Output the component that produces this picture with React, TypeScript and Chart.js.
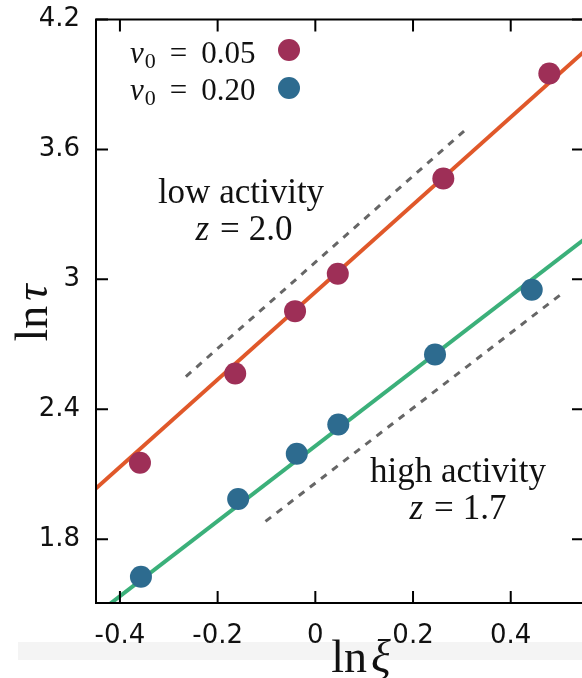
import React, { useEffect, useRef } from 'react';
import { Chart, registerables } from 'chart.js';

Chart.register(...registerables);

// ---- axes ----
const xTicks = [-0.4, -0.2, 0, 0.2, 0.4];
const yTicks = [1.8, 2.4, 3, 3.6, 4.2];
const xRange = [-0.449, 0.55];
const yRange = [1.505, 4.2];

// ---- data: v0 = 0.05 (low activity) ----
const lowX = [-0.359, -0.164, -0.0415, 0.046, 0.262, 0.479];
const lowY = [2.153, 2.565, 2.853, 3.026, 3.466, 3.951];
// ---- data: v0 = 0.20 (high activity) ----
const highX = [-0.357, -0.158, -0.038, 0.047, 0.245, 0.443];
const highY = [1.626, 1.985, 2.194, 2.329, 2.653, 2.952];

// ---- fit lines ----
const lowFitX = [-0.47, 0.57];
const lowFitY = [1.992, 4.092];
const highFitX = [-0.47, 0.57];
const highFitY = [1.415, 3.219];

// ---- guide (dashed) lines ----
const lowGuideX = [-0.265, 0.3065];
const lowGuideY = [2.551, 3.689];
const highGuideX = [-0.102, 0.506];
const highGuideY = [1.882, 2.936];

const seriesLabels = ['0.05', '0.20'];

const RED = '#9e2f57';
const BLUE = '#2d6b8f';
const ORANGE = '#e0582a';
const GREEN = '#3bb07a';
const DASH = '#666666';

const SERIF = '"Liberation Serif", "DejaVu Serif", serif';
const SANS = '"DejaVu Sans", sans-serif';

const pts = (xs: number[], ys: number[]) => xs.map((x, i) => ({ x, y: ys[i] }));

type Part = { t: string; font: string; gap?: number; dy?: number };

function drawParts(ctx: CanvasRenderingContext2D, parts: Part[], x: number, y: number, align: 'left' | 'center') {
  ctx.save();
  ctx.textAlign = 'left';
  ctx.textBaseline = 'alphabetic';
  let total = 0;
  const widths = parts.map((p) => {
    ctx.font = p.font;
    const w = ctx.measureText(p.t).width;
    total += (p.gap || 0) + w;
    return w;
  });
  let cx = align === 'center' ? x - total / 2 : x;
  parts.forEach((p, i) => {
    cx += p.gap || 0;
    ctx.font = p.font;
    ctx.fillText(p.t, cx, y + (p.dy || 0));
    cx += widths[i];
  });
  ctx.restore();
}

const decor = {
  id: 'decor',
  beforeDraw(chart: any) {
    const ctx = chart.ctx as CanvasRenderingContext2D;
    ctx.save();
    ctx.fillStyle = '#ffffff';
    ctx.fillRect(0, 0, chart.width, chart.height);
    ctx.fillStyle = '#f4f4f4';
    ctx.fillRect(18, 642, chart.width - 18, 18);
    ctx.restore();
  },
  afterDraw(chart: any) {
    const ctx = chart.ctx as CanvasRenderingContext2D;
    const { left, right, top, bottom } = chart.chartArea;
    const xs = chart.scales.x;
    const ys = chart.scales.y;
    ctx.save();
    // frame
    ctx.strokeStyle = '#000';
    ctx.lineWidth = 2;
    ctx.strokeRect(left, top, right - left, bottom - top);
    // inward ticks
    const tl = 12;
    ctx.beginPath();
    xTicks.forEach((v) => {
      const px = xs.getPixelForValue(v);
      ctx.moveTo(px, bottom);
      ctx.lineTo(px, bottom - tl);
      ctx.moveTo(px, top);
      ctx.lineTo(px, top + tl);
    });
    yTicks.forEach((v) => {
      const py = ys.getPixelForValue(v);
      ctx.moveTo(left, py);
      ctx.lineTo(left + tl, py);
      ctx.moveTo(right, py);
      ctx.lineTo(right - tl, py);
    });
    ctx.stroke();

    ctx.fillStyle = '#111';
    // annotations
    const ann = `35px ${SERIF}`;
    const annI = `italic 35px ${SERIF}`;
    drawParts(ctx, [{ t: 'low activity', font: ann }], 241, 203, 'center');
    drawParts(ctx, [{ t: 'z', font: annI }, { t: '=', font: ann, gap: 11 }, { t: '2.0', font: ann, gap: 9 }], 244, 240, 'center');
    drawParts(ctx, [{ t: 'high activity', font: ann }], 458, 482, 'center');
    drawParts(ctx, [{ t: 'z', font: annI }, { t: '=', font: ann, gap: 11 }, { t: '1.7', font: ann, gap: 9 }], 458, 519, 'center');

    // legend
    const lf = `31px ${SERIF}`;
    const lfi = `italic 31px ${SERIF}`;
    const lfs = `22px ${SERIF}`;
    const rows = [
      { label: seriesLabels[0], color: RED, base: 63, cy: 50 },
      { label: seriesLabels[1], color: BLUE, base: 100, cy: 88 },
    ];
    rows.forEach((r) => {
      drawParts(ctx, [
        { t: 'v', font: lfi },
        { t: '0', font: lfs, gap: 1, dy: 5 },
        { t: '=', font: lf, gap: 14 },
        { t: r.label, font: lf, gap: 14 },
      ], 130, r.base, 'left');
      ctx.beginPath();
      ctx.fillStyle = r.color;
      ctx.arc(289, r.cy, 11, 0, Math.PI * 2);
      ctx.fill();
      ctx.fillStyle = '#111';
    });

    // axis titles
    const tf = `46px ${SERIF}`;
    const tfi = `italic 46px ${SERIF}`;
    drawParts(ctx, [{ t: 'ln', font: tf }, { t: 'ξ', font: tfi, gap: 4 }], 361, 672, 'center');
    ctx.save();
    ctx.translate(47, 313);
    ctx.rotate(-Math.PI / 2);
    drawParts(ctx, [{ t: 'ln', font: tf }, { t: 'τ', font: tfi, gap: 5 }], 0, 0, 'center');
    ctx.restore();
    ctx.restore();
  },
};

export default function App() {
  const ref = useRef<HTMLCanvasElement | null>(null);
  useEffect(() => {
    if (!ref.current) return;
    const chart = new Chart(ref.current, {
      type: 'scatter',
      data: {
        datasets: [
          { label: 'v0 = 0.05', data: pts(lowX, lowY), backgroundColor: RED, borderWidth: 0, pointRadius: 11 },
          { label: 'v0 = 0.20', data: pts(highX, highY), backgroundColor: BLUE, borderWidth: 0, pointRadius: 11 },
          { label: 'fit low', data: pts(lowFitX, lowFitY), showLine: true, borderColor: ORANGE, borderWidth: 4, pointRadius: 0 },
          { label: 'fit high', data: pts(highFitX, highFitY), showLine: true, borderColor: GREEN, borderWidth: 4, pointRadius: 0 },
          { label: 'guide low', data: pts(lowGuideX, lowGuideY), showLine: true, borderColor: DASH, borderWidth: 3, borderDash: [7, 7], pointRadius: 0 },
          { label: 'guide high', data: pts(highGuideX, highGuideY), showLine: true, borderColor: DASH, borderWidth: 3, borderDash: [7, 7], pointRadius: 0 },
        ] as any,
      },
      options: {
        animation: false,
        responsive: false,
        devicePixelRatio: 1,
        layout: { padding: { top: 19.5, right: 16, left: 0, bottom: 0 } },
        plugins: { legend: { display: false }, tooltip: { enabled: false } },
        scales: {
          x: {
            type: 'linear',
            min: xRange[0],
            max: xRange[1],
            grid: { display: false, drawTicks: false },
            border: { display: false },
            afterBuildTicks: (s: any) => { s.ticks = xTicks.map((value) => ({ value })); },
            afterFit: (s: any) => { s.height = 75; s.paddingLeft = 0; s.paddingRight = 0; },
            ticks: {
              autoSkip: false,
              maxRotation: 0,
              padding: 18,
              color: '#111',
              font: { family: SANS, size: 26 },
              callback: (v: any) => String(v),
            },
          },
          y: {
            type: 'linear',
            min: yRange[0],
            max: yRange[1],
            grid: { display: false, drawTicks: false },
            border: { display: false },
            afterBuildTicks: (s: any) => { s.ticks = yTicks.map((value) => ({ value })); },
            afterFit: (s: any) => { s.width = 96; s.paddingTop = 0; s.paddingBottom = 0; },
            ticks: {
              autoSkip: false,
              padding: 16,
              color: '#111',
              font: { family: SANS, size: 26 },
              callback: (v: any) => String(v),
            },
          },
        },
      } as any,
      plugins: [decor],
    });
    return () => chart.destroy();
  }, []);
  return (
    <div style={{ position: 'fixed', left: 0, top: 0, width: 582, height: 678, overflow: 'hidden', background: '#fff' }}>
      <canvas ref={ref} width={600} height={678} style={{ display: 'block', width: 600, height: 678 }} />
    </div>
  );
}
